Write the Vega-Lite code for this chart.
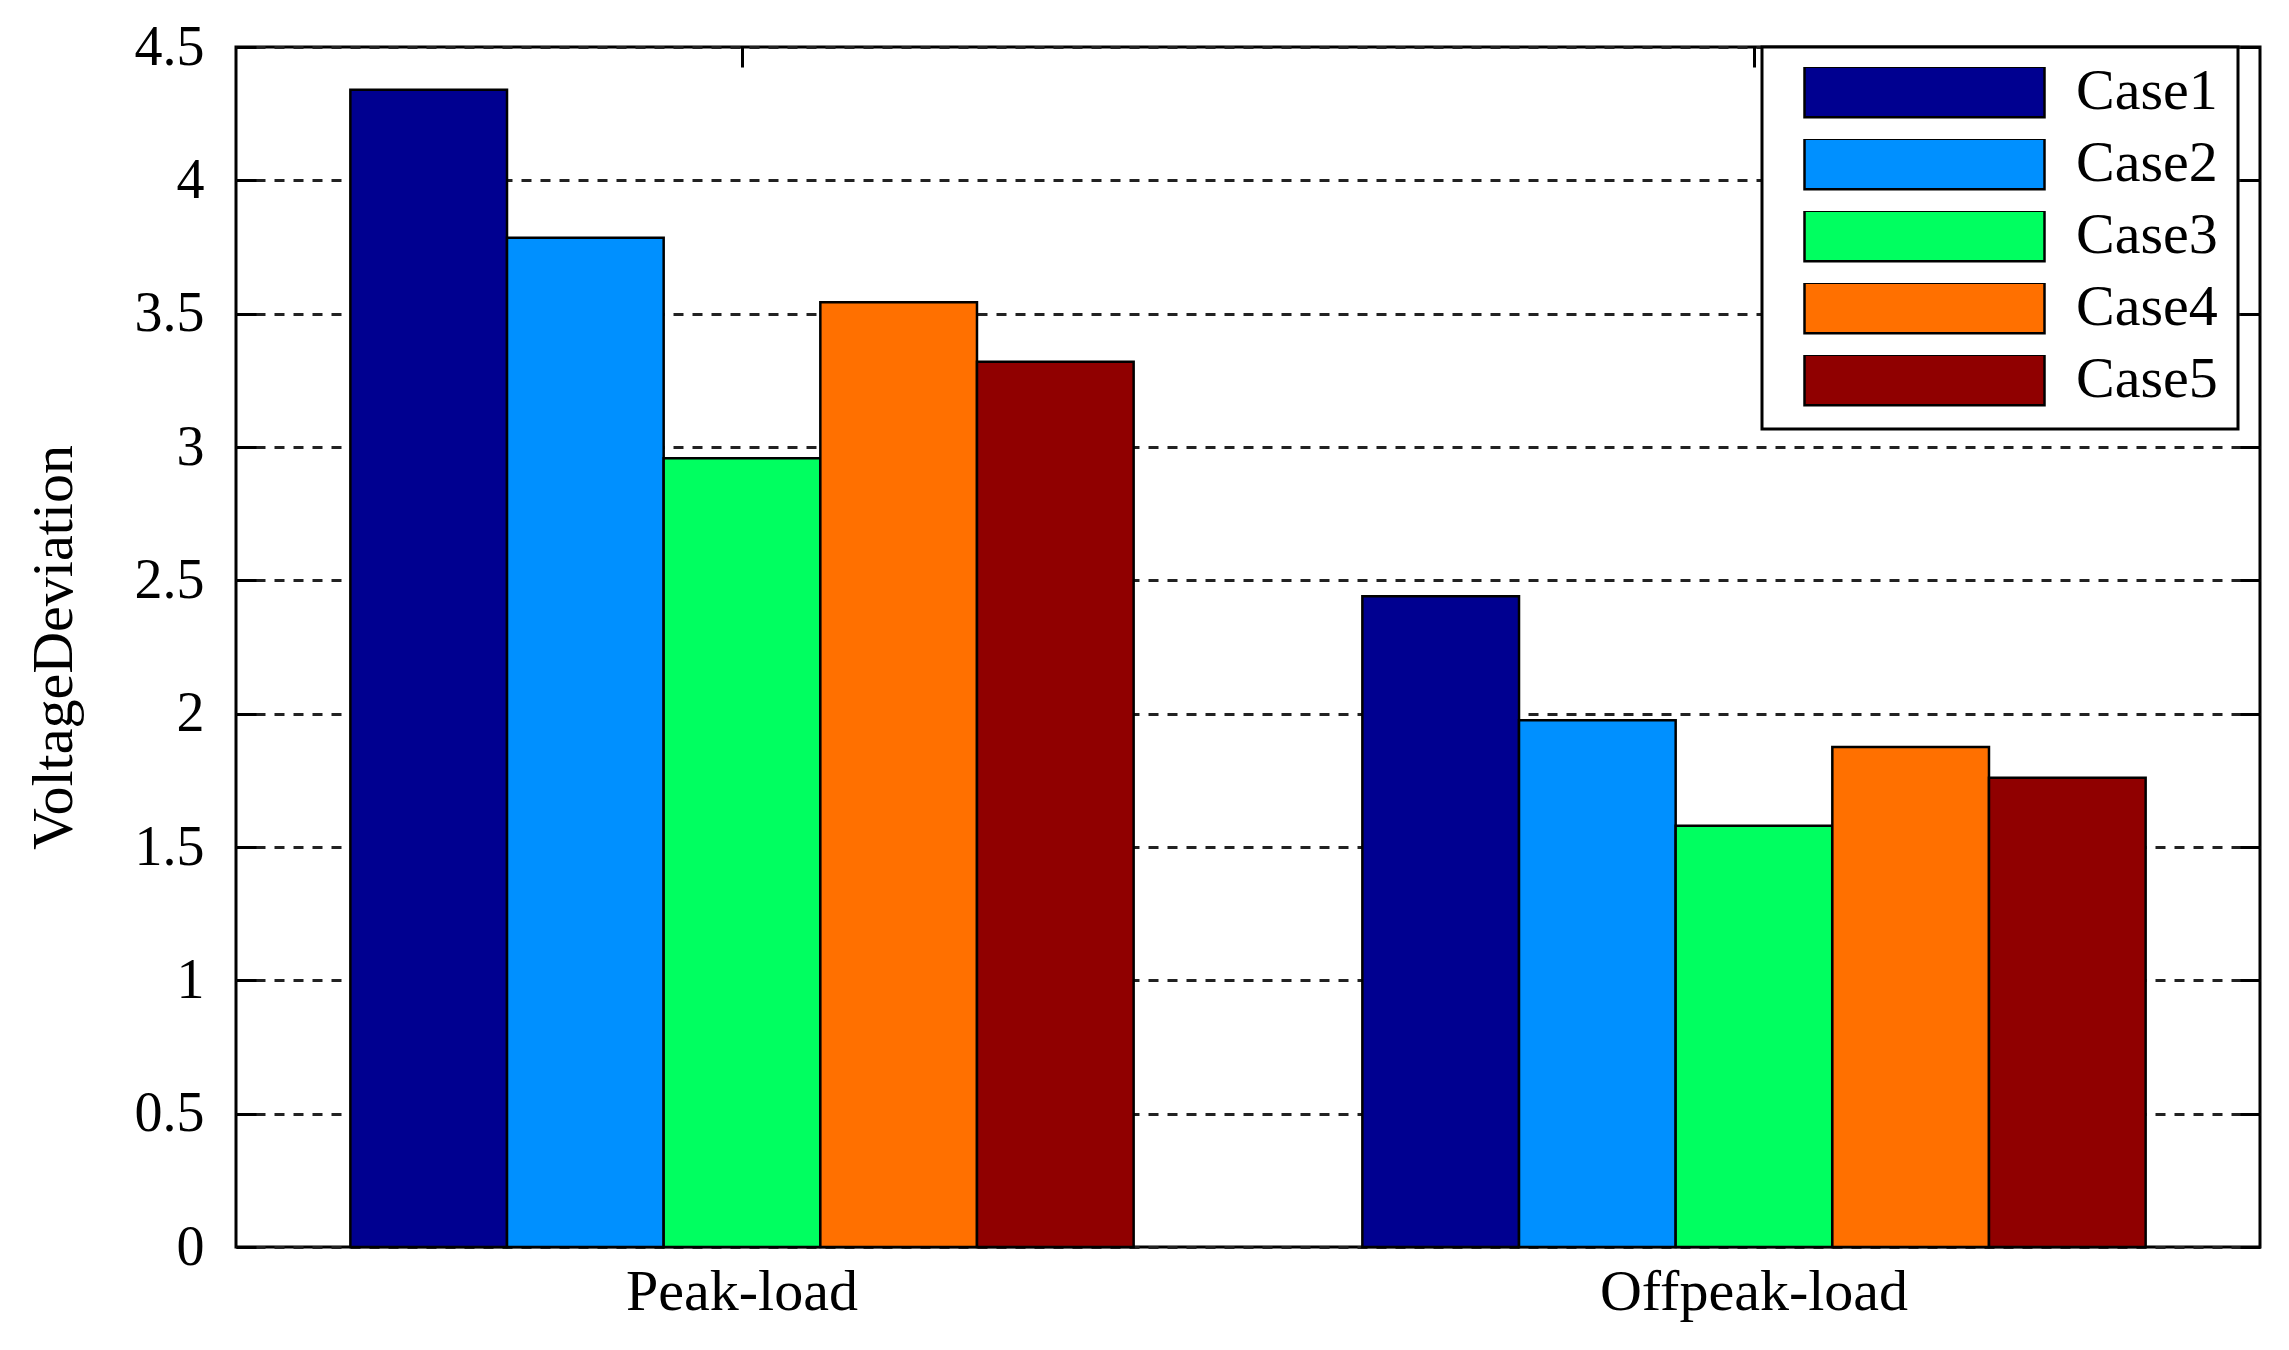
{
  "$schema": "https://vega.github.io/schema/vega-lite/v6.json",
  "width": 2024,
  "height": 1200,
  "autosize": {"type": "none"},
  "padding": {"left": 236, "top": 47, "right": 29, "bottom": 103},
  "background": "white",
  "config": {
    "view": {"stroke": "black", "strokeWidth": 3},
    "font": "Liberation Serif",
    "legend": {"strokeWidth": 3}
  },
  "data": {
    "values": [
      {"load": "Peak-load", "case": "Case1", "value": 4.34},
      {"load": "Peak-load", "case": "Case2", "value": 3.785},
      {"load": "Peak-load", "case": "Case3", "value": 2.958},
      {"load": "Peak-load", "case": "Case4", "value": 3.543},
      {"load": "Peak-load", "case": "Case5", "value": 3.32},
      {"load": "Offpeak-load", "case": "Case1", "value": 2.44},
      {"load": "Offpeak-load", "case": "Case2", "value": 1.975},
      {"load": "Offpeak-load", "case": "Case3", "value": 1.58},
      {"load": "Offpeak-load", "case": "Case4", "value": 1.875},
      {"load": "Offpeak-load", "case": "Case5", "value": 1.76}
    ]
  },
  "layer": [
    {
      "mark": {"type": "bar", "stroke": "black", "strokeWidth": 2.5, "opacity": 1},
      "encoding": {
        "x": {
          "field": "load", "type": "nominal", "sort": ["Peak-load", "Offpeak-load"],
          "scale": {"paddingInner": 0.226, "paddingOuter": 0.113},
          "axis": {"orient": "bottom", "title": null, "labelAngle": 0, "labelFont": "Liberation Serif", "labelFontSize": 58, "labelColor": "black", "labelLimit": 0, "ticks": false, "domain": false, "labelPadding": 16}
        },
        "xOffset": {"field": "case", "type": "nominal", "scale": {"paddingInner": 0, "paddingOuter": 0}},
        "y": {
          "field": "value", "type": "quantitative",
          "scale": {"domain": [0, 4.5], "nice": false, "zero": true},
          "axis": {
            "orient": "left",
            "values": [0, 0.5, 1, 1.5, 2, 2.5, 3, 3.5, 4, 4.5],
            "format": "~g",
            "title": "VoltageDeviation",
            "titleFont": "Liberation Serif", "titleFontSize": 58, "titleFontWeight": "normal", "titleColor": "black", "titlePadding": 51,
            "labelFont": "Liberation Serif", "labelFontSize": 56, "labelColor": "black",
            "domain": false,
            "ticks": true, "tickSize": -20, "tickWidth": 3, "tickColor": "black",
            "labelPadding": 52,
            "grid": true, "gridDash": [10, 9], "gridColor": "#222222", "gridWidth": 3, "gridOpacity": 1
          }
        },
        "color": {
          "field": "case", "type": "nominal",
          "scale": {"domain": ["Case1", "Case2", "Case3", "Case4", "Case5"], "range": ["#000090", "#0090ff", "#00ff60", "#ff7000", "#900000"]},
          "legend": {
            "orient": "none", "legendX": 1526, "legendY": 0, "title": null,
            "symbolType": "M-1,-0.21H1V0.21H-1Z", "symbolSize": 57600,
            "symbolStrokeColor": "black", "symbolStrokeWidth": 2.5, "symbolOpacity": 1,
            "clipHeight": 50, "rowPadding": 14, "symbolOffset": 21, "labelOffset": 30,
            "labelFont": "Liberation Serif", "labelFontSize": 58, "labelColor": "black",
            "labelLimit": 0,
            "labelExpr": "datum.label + '\u00a0\u00a0'",
            "strokeColor": "black", "fillColor": "white", "padding": 20
          }
        }
      }
    },
    {
      "mark": {"type": "bar", "opacity": 0},
      "encoding": {
        "x": {
          "field": "load", "type": "nominal", "sort": ["Peak-load", "Offpeak-load"],
          "axis": {"orient": "top", "title": null, "labels": false, "domain": false, "ticks": true, "tickSize": -20, "tickWidth": 3, "tickColor": "black", "grid": false}
        },
        "y": {
          "field": "value", "type": "quantitative",
          "axis": {"orient": "right", "title": null, "labels": false, "domain": false, "ticks": true, "tickSize": -20, "tickWidth": 3, "tickColor": "black", "grid": false, "values": [0, 0.5, 1, 1.5, 2, 2.5, 3, 3.5, 4, 4.5]}
        }
      }
    }
  ]
}
